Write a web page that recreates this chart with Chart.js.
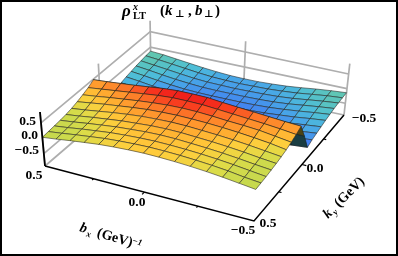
<!DOCTYPE html>
<html>
<head>
<meta charset="utf-8">
<title>rho LT surface</title>
<script src="https://cdn.jsdelivr.net/npm/chart.js@4"></script>
<style>
  html, body { margin: 0; padding: 0; background: #fff; }
  #wrap { position: relative; width: 398px; height: 256px; overflow: hidden; }
  #wrap::after { content: ""; position: absolute; inset: 0; border: 2px solid #000; box-sizing: border-box; pointer-events: none; }
  canvas { filter: blur(0.35px); }
</style>
</head>
<body>
<div id="wrap"><canvas id="surfaceChart" width="398" height="256"></canvas></div>
<script>
// grid positions, row 0 is the front edge of the plot
const bValues = [0.5, 0.429, 0.357, 0.286, 0.214, 0.143, 0.071, 0, -0.071, -0.143, -0.214, -0.286, -0.357, -0.429, -0.5];
const kValues = [0.5, 0.45, 0.4, 0.35, 0.3, 0.25, 0.2, 0.15, 0.1, 0.05, 0, -0.05, -0.1, -0.15, -0.2, -0.25, -0.3, -0.35, -0.4, -0.45, -0.5];

// rho values, one list per k row
const rhoRow0 = [.03, .08, .14, .19, .24, .27, .29, .30, .29, .27, .24, .20, .15, .09, .03];
const rhoRow1 = [.05, .10, .16, .21, .26, .29, .31, .32, .31, .29, .26, .22, .17, .10, .05];
const rhoRow2 = [.07, .12, .18, .23, .28, .31, .33, .34, .33, .31, .28, .24, .19, .13, .07];
const rhoRow3 = [.09, .14, .20, .25, .30, .33, .36, .37, .36, .33, .30, .26, .21, .15, .10];
const rhoRow4 = [.12, .17, .23, .28, .33, .36, .39, .40, .39, .36, .33, .29, .24, .18, .13];
const rhoRow5 = [.16, .21, .27, .33, .38, .42, .44, .45, .44, .41, .38, .34, .29, .23, .17];
const rhoRow6 = [.22, .28, .34, .39, .44, .48, .50, .51, .50, .48, .45, .41, .36, .30, .22];
const rhoRow7 = [.29, .34, .40, .45, .50, .54, .57, .58, .57, .54, .50, .47, .43, .36, .29];
const rhoRow8 = [.37, .42, .47, .52, .57, .62, .65, .65, .64, .60, .56, .52, .48, .43, .37];
const rhoRow9 = [.48, .51, .55, .59, .64, .69, .72, .72, .71, .66, .62, .58, .54, .50, .47];
const rhoRow10 = [0, 0, -.01, -.01, -.02, -.02, -.02, -.02, -.02, -.02, -.02, -.01, -.01, 0, 0];
const rhoRow11 = [-.50, -.55, -.60, -.64, -.67, -.70, -.71, -.72, -.71, -.70, -.68, -.65, -.61, -.56, -.52];
const rhoRow12 = [-.44, -.49, -.54, -.58, -.61, -.63, -.64, -.64, -.64, -.63, -.61, -.58, -.54, -.49, -.44];
const rhoRow13 = [-.39, -.44, -.49, -.53, -.56, -.58, -.59, -.59, -.59, -.58, -.56, -.53, -.49, -.44, -.39];
const rhoRow14 = [-.34, -.39, -.44, -.49, -.52, -.54, -.55, -.55, -.55, -.54, -.52, -.48, -.44, -.39, -.34];
const rhoRow15 = [-.29, -.34, -.40, -.45, -.48, -.50, -.51, -.51, -.51, -.50, -.48, -.44, -.40, -.34, -.29];
const rhoRow16 = [-.25, -.30, -.36, -.41, -.45, -.47, -.48, -.48, -.48, -.47, -.45, -.41, -.36, -.30, -.25];
const rhoRow17 = [-.21, -.26, -.32, -.37, -.41, -.44, -.45, -.45, -.45, -.44, -.42, -.38, -.32, -.26, -.21];
const rhoRow18 = [-.18, -.23, -.28, -.33, -.38, -.41, -.42, -.43, -.42, -.41, -.39, -.35, -.29, -.23, -.18];
const rhoRow19 = [-.15, -.19, -.24, -.29, -.34, -.38, -.40, -.41, -.40, -.39, -.36, -.32, -.26, -.20, -.16];
const rhoRow20 = [-.13, -.16, -.21, -.26, -.31, -.35, -.38, -.39, -.39, -.37, -.34, -.29, -.23, -.18, -.14];
const rhoRows = [rhoRow0, rhoRow1, rhoRow2, rhoRow3, rhoRow4, rhoRow5, rhoRow6, rhoRow7, rhoRow8, rhoRow9, rhoRow10,
  rhoRow11, rhoRow12, rhoRow13, rhoRow14, rhoRow15, rhoRow16, rhoRow17, rhoRow18, rhoRow19, rhoRow20];

const tickText = ["0.5", "0.0", "\u22120.5"];

// height -> colour stops
const colorHeights = [-.72, -.6, -.5, -.4, -.3, -.13, .03, .14, .2, .3, .38, .46, .55, .62, .7];
const colorReds = [64, 62, 66, 72, 78, 100, 196, 206, 222, 255, 255, 255, 252, 248, 238];
const colorGreens = [84, 100, 130, 165, 190, 200, 216, 218, 220, 205, 180, 150, 110, 55, 28];
const colorBlues = [226, 240, 240, 232, 215, 170, 78, 76, 72, 60, 50, 45, 38, 30, 26];

// box of the plot on the picture: left, front, right, back corner of the floor
const cornerX = [45, 254, 344, 151];
const cornerY = [166, 221, 115, 75];
const cornerRise = [31, 34, 29.5, 31];
const vanishX = 177, vanishY = 1591;
const zFloor = -0.9, zTop = 0.85;

const d1x = cornerX[1] - cornerX[2], d2x = cornerX[3] - cornerX[2];
const d1y = cornerY[1] - cornerY[2], d2y = cornerY[3] - cornerY[2];
const sx = cornerX[0] - cornerX[1] + cornerX[2] - cornerX[3];
const sy = cornerY[0] - cornerY[1] + cornerY[2] - cornerY[3];
const den = d1x * d2y - d2x * d1y;
const hg = (sx * d2y - d2x * sy) / den;
const hh = (d1x * sy - sx * d1y) / den;

function project(b, k, z) {
  const u = 0.5 - b;
  const v = 0.5 - k;
  const w = hg * u + hh * v + 1;
  const fx = ((cornerX[1] * (1 + hg) - cornerX[0]) * u + (cornerX[3] * (1 + hh) - cornerX[0]) * v + cornerX[0]) / w;
  const fy = ((cornerY[1] * (1 + hg) - cornerY[0]) * u + (cornerY[3] * (1 + hh) - cornerY[0]) * v + cornerY[0]) / w;
  const rise = (1 - u) * (1 - v) * cornerRise[0] + u * (1 - v) * cornerRise[1] + u * v * cornerRise[2] + (1 - u) * v * cornerRise[3];
  const len = Math.hypot(fx - vanishX, fy - vanishY);
  const h = rise * (z - zFloor);
  return { x: fx + (fx - vanishX) / len * h, y: fy + (fy - vanishY) / len * h };
}

function heightColor(z, shade) {
  let i = 0;
  while (i < colorHeights.length - 2 && z > colorHeights[i + 1]) i++;
  let t = (z - colorHeights[i]) / (colorHeights[i + 1] - colorHeights[i]);
  t = Math.max(0, Math.min(1, t));
  const mix = arr => Math.round((arr[i] + (arr[i + 1] - arr[i]) * t) * shade);
  return "rgb(" + mix(colorReds) + "," + mix(colorGreens) + "," + mix(colorBlues) + ")";
}

function signedArea(p) {
  let a = 0;
  p.forEach((q, n) => {
    const r = p[(n + 1) % p.length];
    a += q.x * r.y - r.x * q.y;
  });
  return a;
}

function lineSet(points, color, width) {
  return {
    data: points,
    showLine: true,
    fill: false,
    borderColor: color,
    borderWidth: width,
    pointRadius: 0,
    tension: 0
  };
}

const wallGray = "#aeaeae";
const backSets = [];

// walls behind the surface
[zFloor, -0.5, 0, 0.5].forEach(z => {
  backSets.push(lineSet([project(0.5, 0.5, z), project(0.5, -0.5, z), project(-0.5, -0.5, z)], wallGray, 1.7));
});
[[0.5, 0.5], [0.5, 0], [0.5, -0.5], [0, -0.5], [-0.5, -0.5]].forEach(([b, k]) => {
  backSets.push(lineSet([project(b, k, zFloor), project(b, k, zTop)], wallGray, 1.7));
});

// surface cells, far ones first
const cellSets = [];
for (let i = kValues.length - 2; i >= 0; i--) {
  for (let j = 0; j < bValues.length - 1; j++) {
    const zs = [rhoRows[i][j], rhoRows[i][j + 1], rhoRows[i + 1][j + 1], rhoRows[i + 1][j]];
    const bs = [bValues[j], bValues[j + 1], bValues[j + 1], bValues[j]];
    const ks = [kValues[i], kValues[i], kValues[i + 1], kValues[i + 1]];
    const pts = zs.map((z, n) => project(bs[n], ks[n], z));
    const flat = zs.map((z, n) => project(bs[n], ks[n], 0));
    const under = signedArea(pts) * signedArea(flat) < 0;
    const mean = (zs[0] + zs[1] + zs[2] + zs[3]) / 4;
    cellSets.push({
      data: pts.concat([pts[0]]),
      showLine: true,
      fill: "shape",
      backgroundColor: heightColor(mean, under ? 0.32 : 1),
      borderColor: under ? "rgba(20,30,30,0.7)" : "rgba(35,35,30,0.7)",
      borderWidth: 0.8,
      pointRadius: 0,
      tension: 0
    });
  }
}

// black axes in front
const axisSets = [
  lineSet([project(0.5, 0.5, zFloor), project(-0.5, 0.5, zFloor), project(-0.5, -0.5, zFloor)], "#000", 1.5),
  lineSet([project(0.5, 0.5, zFloor), project(0.5, 0.5, zTop)], "#000", 1.8)
];
[0.25, 0, -0.25].forEach(v => {
  const size = v === 0 ? 0.02 : 0.012;
  axisSets.push(lineSet([project(v, 0.5, zFloor), project(v, 0.5 + size, zFloor)], "#000", 1.2));
  axisSets.push(lineSet([project(-0.5, v, zFloor), project(-0.5 - size, v, zFloor)], "#000", 1.2));
});

// chart.js paints the first dataset last
const allSets = backSets.concat(cellSets, axisSets).reverse();

function put(ctx, text, x, y, font, align) {
  ctx.font = font;
  ctx.textAlign = align || "left";
  ctx.fillText(text, x, y);
}

const labelPlugin = {
  id: "labelPlugin",
  afterDraw(chart) {
    const ctx = chart.ctx;
    const serifBold = '"Liberation Serif", "DejaVu Serif", serif';
    ctx.save();
    ctx.fillStyle = "#000";
    ctx.textBaseline = "middle";
    const tickFont = "bold 13.5px " + serifBold;

    put(ctx, tickText[0], 36, 122, tickFont, "right");
    put(ctx, tickText[1], 38, 136, tickFont, "right");
    put(ctx, tickText[2], 39, 151, tickFont, "right");

    put(ctx, tickText[0], 34, 176, tickFont, "center");
    put(ctx, tickText[1], 137, 203, tickFont, "center");
    put(ctx, tickText[2], 243, 231, tickFont, "center");

    put(ctx, tickText[0], 268, 224, tickFont, "center");
    put(ctx, tickText[1], 315, 169, tickFont, "center");
    put(ctx, tickText[2], 364, 119, tickFont, "center");

    // title
    ctx.textBaseline = "alphabetic";
    put(ctx, "\u03C1", 122, 16, "italic bold 17px " + serifBold);
    put(ctx, "x", 133, 10, "italic bold 10px " + serifBold);
    put(ctx, "LT", 133, 19, "bold 10.5px " + serifBold);
    put(ctx, "(", 160, 15, "bold 15px " + serifBold);
    put(ctx, "k", 165, 15, "italic bold 15px " + serifBold);
    put(ctx, "\u22A5", 175, 17, "bold 10px " + serifBold);
    put(ctx, ",", 188, 15, "bold 15px " + serifBold);
    put(ctx, "b", 195, 15, "italic bold 15px " + serifBold);
    put(ctx, "\u22A5", 204, 17, "bold 10px " + serifBold);
    put(ctx, ")", 215, 15, "bold 15px " + serifBold);

    // bx label
    ctx.save();
    ctx.translate(79, 231);
    ctx.rotate(17 * Math.PI / 180);
    put(ctx, "b", 0, 0, "italic bold 14px " + serifBold);
    put(ctx, "x", 8, 3, "italic bold 9px " + serifBold);
    put(ctx, "(GeV)", 18, 0, "bold 14px " + serifBold);
    put(ctx, "\u22121", 54, -4, "italic bold 9px " + serifBold);
    ctx.restore();

    // ky label
    ctx.save();
    ctx.translate(328, 219);
    ctx.rotate(-45 * Math.PI / 180);
    put(ctx, "k", 0, 0, "italic bold 14px " + serifBold);
    put(ctx, "y", 8, 3, "italic bold 9px " + serifBold);
    put(ctx, "(GeV)", 16, 0, "bold 14px " + serifBold);
    ctx.restore();

    ctx.restore();
  }
};

new Chart(document.getElementById("surfaceChart"), {
  type: "scatter",
  data: { datasets: allSets },
  options: {
    responsive: false,
    animation: false,
    layout: { padding: 0 },
    clip: false,
    plugins: {
      legend: { display: false },
      tooltip: { enabled: false },
      title: { display: false }
    },
    scales: {
      x: { type: "linear", min: 0, max: 398, display: false },
      y: { type: "linear", min: 0, max: 256, reverse: true, display: false }
    }
  },
  plugins: [labelPlugin]
});
</script>
</body>
</html>
